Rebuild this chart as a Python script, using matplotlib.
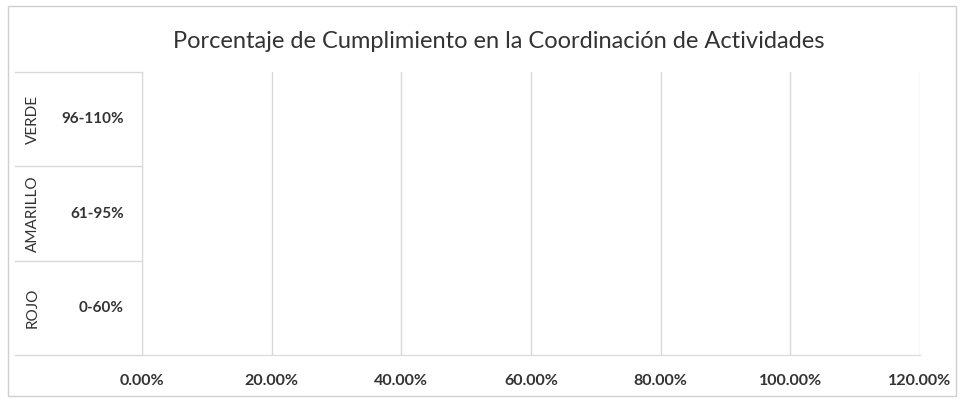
import matplotlib
matplotlib.use("Agg")
import matplotlib.pyplot as plt
from matplotlib.ticker import FuncFormatter
from matplotlib.lines import Line2D

plt.rcParams['font.family'] = ['Lato', 'DejaVu Sans']

title = "Porcentaje de Cumplimiento en la Coordinación de Actividades"
groups = ["ROJO", "AMARILLO", "VERDE"]
ranges = ["0-60%", "61-95%", "96-110%"]
values = [0.0, 0.0, 0.0]
xticks = [0.0, 0.2, 0.4, 0.6, 0.8, 1.0, 1.2]

W, H = 961, 400
fig = plt.figure(figsize=(W / 100, H / 100), dpi=100)
ax = fig.add_axes([142 / W, 1 - 355 / H, (920 - 142) / W, (355 - 72) / H])

ypos = list(range(len(groups)))
ax.barh(ypos, values, height=0.6, color="#4472c4")
ax.set_xlim(0, 1.2)
ax.set_ylim(-0.5, len(groups) - 0.5)
ax.set_xticks(xticks)
ax.xaxis.set_major_formatter(FuncFormatter(lambda v, p: f"{v*100:.2f}%"))
ax.grid(axis="x", color="#d9d9d9", linewidth=1)
ax.set_axisbelow(True)
ax.tick_params(axis="x", length=0, pad=14, labelsize=11.5, labelcolor="#333333")
for lab in ax.get_xticklabels():
    lab.set_fontweight("bold")
ax.set_yticks([])
for s in ["top", "right"]:
    ax.spines[s].set_visible(False)
ax.spines["left"].set_color("#d9d9d9")
ax.spines["bottom"].set_color("#d9d9d9")

# multi-level category labels
trans = ax.get_yaxis_transform()
for i, (g, r) in enumerate(zip(groups, ranges)):
    ax.text(-0.023, i, r, transform=trans, ha="right", va="center",
            fontsize=11, fontweight="bold", color="#333333")
    ax.text(-0.140, i, g, transform=trans, ha="center", va="center",
            rotation=90, fontsize=11, color="#333333")
for b in [-0.5, 0.5, 1.5, 2.5]:
    ax.add_line(Line2D([-0.163, 0], [b, b], transform=trans, color="#d9d9d9",
                       linewidth=1, clip_on=False))

fig.text(499 / W, 1 - 42 / H, title, ha="center", va="center",
         fontsize=17, color="#333333")

# chart border
fig.add_artist(plt.Rectangle((8 / W, 4 / H), (956 - 8) / W, (394 - 4) / H,
                             transform=fig.transFigure, fill=False,
                             edgecolor="#cfcfcf", linewidth=1))

fig.savefig("out.png", dpi=100)
